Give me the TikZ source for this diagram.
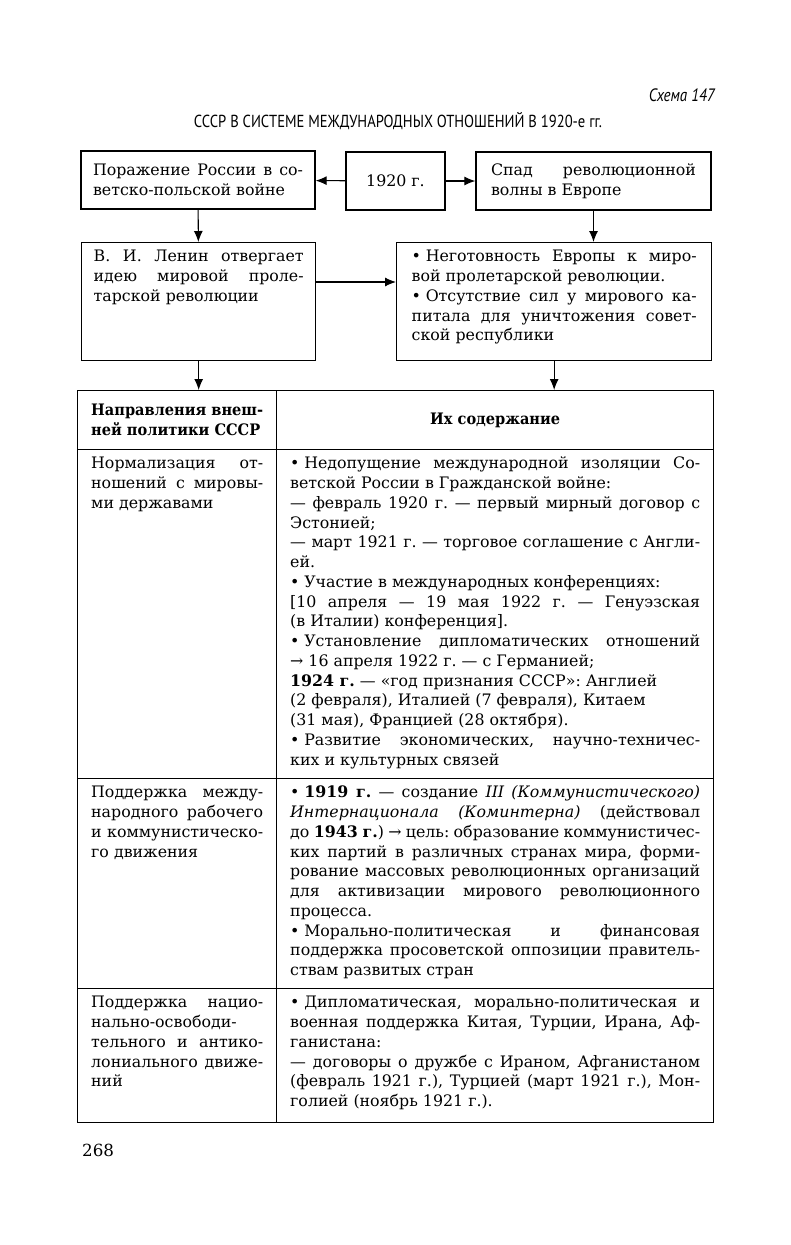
\documentclass[tikz,border=0pt]{standalone}
\usepackage{fontspec}
\setmainfont{DejaVu Serif}
\newfontfamily\headfont[FakeStretch=0.84]{PT Sans}
\newfontfamily\narrowserif[FakeStretch=0.92]{DejaVu Serif}
\usetikzlibrary{arrows.meta}
\newcommand\txt{\fontsize{9}{11.25}\selectfont\frenchspacing\tolerance=10000 \hyphenpenalty=10000 }
\newcommand\bul{•\hspace{0.3em}}
\tikzset{
  box/.style={draw,line width=0.8pt,inner sep=0pt,align=justify,font=\txt},
  cell/.style={box,anchor=north west,inner xsep=0.27cm,inner ysep=0.12cm,text height=0.26cm},
  colhead/.style={box,anchor=north west,minimum height=1.18cm,font=\txt\narrowserif\bfseries},
  arr/.style={-{Latex[length=2.2mm,width=1.8mm]},line width=0.6pt},
}
\begin{document}
\begin{tikzpicture}[x=0.02cm,y=-0.02cm]
  \useasboundingbox (0,0) rectangle (791,1245);
  \node[font=\headfont\fontsize{10.2}{11}\selectfont\itshape,anchor=east] (scheme) at (721,95) {Схема 147};
  \node[font=\headfont\fontsize{9.9}{11}\selectfont] (title) at (398,121) {СССР В СИСТЕМЕ МЕЖДУНАРОДНЫХ ОТНОШЕНИЙ В 1920-е гг.};
  % causes
  \node[box,minimum width=4.68cm,minimum height=1.16cm,text width=4.2cm] (defeat) at (198,180) {Поражение России в со-\linebreak ветско-польской войне};
  \node[box,minimum width=1.98cm,minimum height=1.16cm,align=center] (year) at (395.5,181) {1920 г.};
  \node[box,minimum width=4.7cm,minimum height=1.16cm,text width=4.1cm] (decline) at (593.5,181) {Спад революционной\linebreak волны в Европе};
  \node[cell,inner xsep=0.24cm,text width=4.2cm,text depth=1.86cm] (lenin) at (81,242) {В. И. Ленин отвергает\linebreak идею мировой проле-\linebreak тарской революции};
  \node[cell,inner xsep=0.3cm,text width=5.7cm,text depth=1.86cm] (reasons) at (396,242) {\bul Неготовность Европы к миро-\linebreak вой пролетарской революции.\\
    \bul Отсутствие сил у мирового ка-\linebreak питала для уничтожения совет-\linebreak ской республики};
  \draw[arr] (year) -- (defeat);
  \draw[arr] (year) -- (decline);
  \draw[arr] (defeat) -- (lenin);
  \draw[arr] (decline.south) -- (decline.south |- reasons.north);
  \draw[arr] ([yshift=-0.8cm]lenin.north east) -- ([yshift=-0.8cm]reasons.north west);
  % table
  \node[colhead,minimum width=3.98cm,text width=3.44cm] (h1) at (77,390) {Направления внеш-\linebreak ней политики СССР};
  \node[colhead,minimum width=8.74cm,align=center] (h2) at (276,390) {Их содержание};
  \draw[arr] (lenin.south) -- (lenin.south |- h1.north);
  \draw[arr] (reasons.south) -- (reasons.south |- h2.north);
  \node[cell,text width=3.44cm,text depth=6.08cm] (dir1) at (77,449) {Нормализация от-\linebreak ношений с мировы-\linebreak ми державами};
  \node[cell,text width=8.2cm,text depth=6.08cm] (cont1) at (276,449) {\bul Недопущение международной изоляции Со-\linebreak
    ветской России в Гражданской войне:\\
    — февраль 1920 г. — первый мирный договор с\linebreak
    Эстонией;\\
    — март 1921 г. — торговое соглашение с Англи-\linebreak
    ей.\\
    \bul Участие в международных конференциях:\\{}
    [10 апреля — 19 мая 1922 г. — Генуэзская\linebreak
    (в Италии) конференция].\\
    \bul Установление дипломатических отношений\linebreak
    → 16 апреля 1922 г. — с Германией;\\
    \textbf{1924 г.} — «год признания СССР»: Англией\\
    (2 февраля), Италией (7 февраля), Китаем\\
    (31 мая), Францией (28 октября).\\
    \bul Развитие экономических, научно-техничес-\linebreak
    ких и культурных связей};
  \node[cell,text width=3.44cm,text depth=3.7cm] (dir2) at (77,778) {Поддержка между-\linebreak народного рабочего\linebreak и коммунистическо-\linebreak го движения};
  \node[cell,text width=8.2cm,text depth=3.7cm] (cont2) at (276,778) {\bul\textbf{1919 г.} — создание \textit{III (Коммунистического)}\linebreak
    \textit{Интернационала (Коминтерна)} (действовал\linebreak
    до \textbf{1943 г.}) → цель: образование коммунистичес-\linebreak
    ких партий в различных странах мира, форми-\linebreak
    рование массовых революционных организаций\linebreak
    для активизации мирового революционного\linebreak
    процесса.\\
    \bul Морально-политическая и финансовая\linebreak
    поддержка просоветской оппозиции правитель-\linebreak
    ствам развитых стран};
  \node[cell,text width=3.44cm,text depth=2.18cm] (dir3) at (77,988) {Поддержка нацио-\linebreak нально-освободи-\linebreak тельного и антико-\linebreak лониального движе-\linebreak ний};
  \node[cell,text width=8.2cm,text depth=2.18cm] (cont3) at (276,988) {\bul Дипломатическая, морально-политическая и\linebreak
    военная поддержка Китая, Турции, Ирана, Аф-\linebreak
    ганистана:\\
    — договоры о дружбе с Ираном, Афганистаном\linebreak
    (февраль 1921 г.), Турцией (март 1921 г.), Мон-\linebreak
    голией (ноябрь 1921 г.).};
  \node[font=\fontsize{9.5}{10}\selectfont,anchor=west] (page) at (76,1150) {268};
\end{tikzpicture}
\end{document}
